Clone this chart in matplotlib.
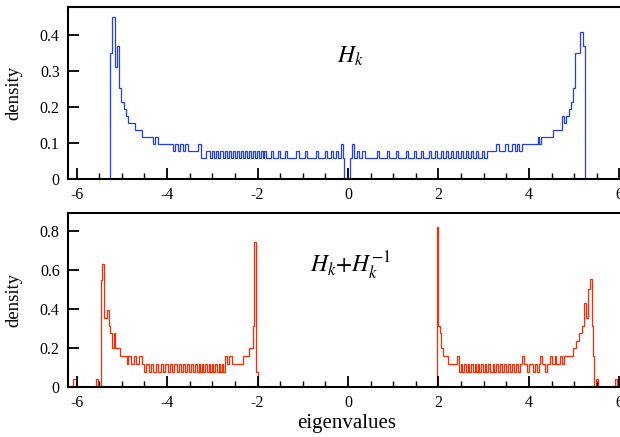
import numpy as np
import matplotlib
matplotlib.use("Agg")
import matplotlib.pyplot as plt
from matplotlib.ticker import MultipleLocator, FuncFormatter

# ---------------- data ----------------
# top panel: spectrum of H_k  (base step levels + narrow features)
top_edges = [-5.257, -5.213, -5.154, -5.110, -5.066, -5.014, -4.962, -4.918,
             -4.867, -4.705, -4.565, -4.315, -4.263, -4.205, -3.874, -3.543,
             -3.32, -3.26, -3.15, -3.06, -0.08, 0.05, 3.07, 3.84, 4.19, 4.53,
             4.73, 4.78, 4.83, 4.88, 4.93, 4.98, 5.02, 5.13, 5.19, 5.23]
top_vals = [0.351, 0.449, 0.312, 0.370, 0.253, 0.214, 0.195, 0.175,
            0.156, 0.136, 0.117, 0.097, 0.117, 0.097, 0.097, 0.078,
            0.097, 0.058, 0.078, 0.058, 0.0, 0.058, 0.078, 0.097, 0.117,
            0.136, 0.175, 0.156, 0.175, 0.195, 0.214, 0.253, 0.351, 0.409, 0.370]
top_dip_starts = [-3.874, -3.763, -3.653]          # dips to 0.078
top_dip_width = 0.055
top_bump_starts = [-3.00, -2.91, -2.82, -2.73, -2.64, -2.55, -2.46, -2.37,
                   -2.28, -2.19, -2.10, -2.01, -1.92, -1.85, -1.70, -1.55,
                   -1.39, -1.14, -0.95, -0.71, -0.51, -0.37, -0.26,
                   0.20, 0.32, 0.64, 0.86, 1.06, 1.28, 1.46, 1.62, 1.79,
                   1.92, 2.05, 2.16, 2.27, 2.38, 2.49, 2.60, 2.71, 2.83, 2.96]  # bumps to 0.078
top_bump_width = 0.047
top_high = [(-0.16, -0.11, 0.097), (0.08, 0.14, 0.097), (3.28, 3.34, 0.097),
            (3.47, 3.54, 0.097), (3.63, 3.69, 0.097), (3.73, 3.78, 0.097),
            (4.22, 4.26, 0.097)]

# bottom panel: spectrum of H_k + H_k^-1
bot_edges = [-6.07, -6.02, -5.57, -5.52, -5.465, -5.43, -5.40, -5.33, -5.29,
             -5.26, -5.22, -5.18, -5.14, -5.05, -4.56, -2.57, -2.33, -2.18,
             -2.11, -2.07, -2.03, -2.00, 1.975, 2.00, 2.03, 2.06, 2.11, 2.21,
             4.83, 4.98, 5.05, 5.11, 5.17, 5.22, 5.27, 5.31, 5.345, 5.385,
             5.41, 5.43, 5.48, 5.53, 5.90, 5.94]
bot_vals = [0.038, 0.0, 0.038, 0.0, 0.547, 0.628, 0.351, 0.393, 0.311,
            0.274, 0.197, 0.274, 0.197, 0.157, 0.115, 0.115, 0.157, 0.197,
            0.311, 0.744, 0.077, 0.0, 0.821, 0.311, 0.274, 0.197, 0.157, 0.115,
            0.157, 0.197, 0.236, 0.274, 0.311, 0.43, 0.35, 0.50, 0.55, 0.311,
            0.157, 0.0, 0.038, 0.0, 0.038]
bot_dip_starts = [-4.52, -4.41, -4.30, -4.19, -4.08, -3.99, -3.90, -3.79,
                  -3.70, -3.60, -3.51, -3.42, -3.34, -3.27, -3.20, -3.12,
                  -3.05, -2.98, -2.90, -2.83, -2.76,
                  2.46, 2.53, 2.61, 2.68, 2.76, 2.83, 2.90, 2.99, 3.06, 3.15,
                  3.23, 3.32, 3.40, 3.49, 3.58, 3.67, 3.76, 3.95, 4.10, 4.18, 4.35]  # dips to 0.077
bot_dip_width = 0.045
bot_extra = [(-4.89, -4.86, 0.115), (-4.79, -4.74, 0.115), (-4.68, -4.63, 0.115),
             (-2.72, -2.68, 0.157), (-2.62, -2.57, 0.157), (2.41, 2.46, 0.157),
             (3.84, 3.88, 0.157), (4.24, 4.28, 0.157), (4.46, 4.52, 0.157),
             (4.57, 4.60, 0.157), (4.68, 4.72, 0.157), (4.77, 4.83, 0.157)]

xticks = [-6, -4, -2, 0, 2, 4, 6]
top_yticks = [0, 0.1, 0.2, 0.3, 0.4]
bot_yticks = [0, 0.2, 0.4, 0.6, 0.8]


def build(base_edges, base_vals, feats):
    pts = set(base_edges)
    for s, e, v in feats:
        pts.add(round(s, 4)); pts.add(round(e, 4))
    edges = np.array(sorted(pts))
    be = np.array(base_edges)
    vals = []
    for a, b in zip(edges[:-1], edges[1:]):
        m = 0.5 * (a + b)
        i = np.searchsorted(be, m) - 1
        v = base_vals[i]
        for s, e, fv in feats:
            if s <= m < e:
                v = fv
        vals.append(v)
    return edges, np.array(vals)


top_feats = [(s, s + top_dip_width, 0.078) for s in top_dip_starts] + \
            [(s, s + top_bump_width, 0.078) for s in top_bump_starts] + top_high
bot_feats = [(s, s + bot_dip_width, 0.077) for s in bot_dip_starts] + bot_extra

te, tv = build(top_edges, top_vals, top_feats)
be_, bv = build(bot_edges, bot_vals, bot_feats)

# ---------------- figure ----------------
plt.rcParams['font.family'] = ['Liberation Serif', 'DejaVu Serif']
plt.rcParams['mathtext.fontset'] = 'stix'
plt.rcParams['axes.unicode_minus'] = False

fig = plt.figure(figsize=(6.2, 4.37), dpi=100)
W, H = 620.0, 437.0
ax1 = fig.add_axes([68 / W, 1 - 179 / H, 560 / W, 172 / H])
ax2 = fig.add_axes([68 / W, 1 - 386.7 / H, 560 / W, 173.7 / H])

ax1.stairs(tv, te, baseline=0, color='#1f3cff', lw=0.9)
ax2.stairs(bv, be_, baseline=0, color='#ff2a00', lw=0.9)

ax1.set_ylim(0, 0.478)
ax2.set_ylim(0, 0.891)


def yfmt(v, p):
    return '0' if abs(v) < 1e-9 else f'{v:.1f}'


for ax, yt in ((ax1, top_yticks), (ax2, bot_yticks)):
    ax.set_xlim(-6.19, 6.19)
    ax.set_xticks(xticks)
    ax.set_xticklabels([str(t) for t in xticks])
    ax.xaxis.set_minor_locator(MultipleLocator(0.5))
    ax.set_yticks(yt)
    ax.yaxis.set_major_formatter(FuncFormatter(yfmt))
    ax.tick_params(axis='both', which='major', direction='in', length=8,
                   width=1.3, labelsize=11.5, top=False, right=False, pad=6)
    ax.tick_params(axis='x', which='minor', direction='in', length=4.5,
                   width=1.0, top=False)
    for sp in ax.spines.values():
        sp.set_linewidth(1.5)
    ax.set_ylabel('density', fontsize=13.5)
    ax.yaxis.set_label_coords(-0.082, 0.5)

ax1.text(0.05, 0.34, r'$H_k$', fontsize=17, ha='center', va='center')
ax2.text(0.05, 0.62, r'$H_k{+}H_k^{-1}$', fontsize=17, ha='center', va='center')

ax2.set_xlabel('eigenvalues', fontsize=15)
ax2.xaxis.set_label_coords(0.498, -0.16)

fig.savefig('out.png', dpi=100)
